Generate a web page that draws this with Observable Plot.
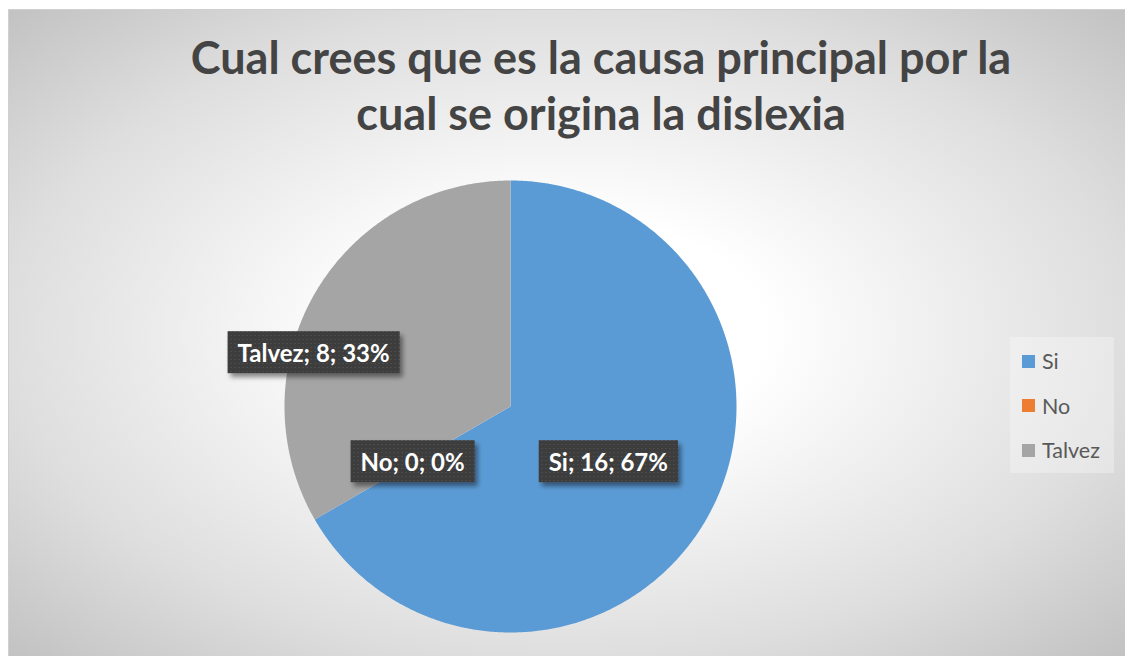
<!DOCTYPE html>
<html>
<head>
<meta charset="utf-8">
<script src="https://cdn.jsdelivr.net/npm/d3@7"></script>
<script src="https://cdn.jsdelivr.net/npm/@observablehq/plot@0.6"></script>
<style>
  html, body { margin: 0; padding: 0; background: #ffffff; }
  #wrap { position: relative; width: 1125px; height: 656px; overflow: hidden; font-family: Lato, "Open Sans", sans-serif; }
  #bg { position: absolute; left: 8px; top: 9px; width: 1117px; height: 647px; box-sizing: border-box;
        border-top: 1px solid #d0d0d0; border-left: 1px solid #d0d0d0;
        background: radial-gradient(ellipse farthest-corner at 50% 50%, #ffffff 0%, #ffffff 25%, #dedede 71%, #c2c2c2 100%); }
  #title { position: absolute; left: 101px; width: 1000px; top: 29px; text-align: center; font-weight: bold;
           font-size: 45px; line-height: 56px; color: #444444; white-space: nowrap; }
  #legend { position: absolute; left: 1010px; top: 337px; width: 104px; height: 136px; box-sizing: border-box;
            padding-top: 2px; background: rgba(255,255,255,0.3); }
  .lg-row { display: flex; align-items: center; height: 44.5px; padding-left: 12px; color: #595959; font-size: 21.5px; }
  .lg-sw { width: 13px; height: 13px; margin-right: 7px; flex: none; }
  #wrap svg { position: absolute; left: 0; top: 0; }
</style>
</head>
<body>
<div id="wrap">
  <div id="bg"></div>
  <div id="title"></div>
  <div id="legend"></div>
</div>
<script>
// ---- data ----
const categories = ["Si", "No", "Talvez"];
const counts = [16, 0, 8];
const colors = ["#5b9bd5", "#ed7d31", "#a5a5a5"];
const titleLines = ["Cual crees que es la causa principal por la", "cual se origina la dislexia"];

// ---- layout ----
const W = 1125, H = 656, CX = 510, CY = 406, R = 226;

const rows = categories.map((c, i) => ({cat: c, count: counts[i]}));
const total = d3.sum(counts);
const arcs = d3.pie().sort(null).value(d => d.count)(rows);

// slice outlines from the pie angles
const pts = [];
arcs.forEach(a => {
  const span = a.endAngle - a.startAngle;
  if (span <= 0) return;
  pts.push({cat: a.data.cat, x: 0, y: 0});
  const n = Math.max(2, Math.ceil(span / (Math.PI / 360)));
  for (let k = 0; k <= n; k++) {
    const t = a.startAngle + span * k / n;
    pts.push({cat: a.data.cat, x: Math.sin(t), y: Math.cos(t)});
  }
});

const labels = arcs.map(a => {
  const m = (a.startAngle + a.endAngle) / 2;
  return {
    cat: a.data.cat,
    text: `${a.data.cat}; ${a.data.count}; ${Math.round(100 * a.data.count / total)}%`,
    x: 0.5 * Math.sin(m),
    y: 0.5 * Math.cos(m)
  };
});

const textOpts = {x: "x", y: "y", text: "text", fill: "white", fontWeight: "bold", fontSize: 24};

const svg = Plot.plot({
  width: W, height: H, margin: 0,
  x: {domain: [-CX / R, (W - CX) / R], axis: null},
  y: {domain: [-(H - CY) / R, CY / R], axis: null},
  color: {domain: categories, range: colors},
  style: {background: "transparent", fontFamily: "Lato, 'Open Sans', sans-serif", overflow: "visible"},
  marks: [
    Plot.line(pts, {x: "x", y: "y", z: "cat", fill: "cat", stroke: "none"}),
    Plot.text(labels.filter(d => d.cat !== "Talvez"), textOpts),
    Plot.text(labels.filter(d => d.cat === "Talvez"), {...textOpts, dx: -99, dy: 4})
  ]
});

document.getElementById("wrap").append(svg);

// title
document.getElementById("title").innerHTML = titleLines.join("<br>");

// legend
const lg = d3.select("#legend");
categories.forEach((c, i) => {
  const r = lg.append("div").attr("class", "lg-row");
  r.append("div").attr("class", "lg-sw").style("background", colors[i]);
  r.append("span").text(c);
});

// label boxes (patterned, with shadow)
const NS = "http://www.w3.org/2000/svg";
const defs = document.createElementNS(NS, "defs");
defs.innerHTML =
  '<pattern id="lblDots" patternUnits="userSpaceOnUse" width="4" height="4">' +
  '<rect width="4" height="4" fill="#3d3d3d"></rect>' +
  '<rect x="1" y="1" width="1" height="1" fill="#585858"></rect></pattern>' +
  '<filter id="lblShadow" x="-20%" y="-40%" width="150%" height="200%">' +
  '<feGaussianBlur in="SourceAlpha" stdDeviation="2.5"></feGaussianBlur>' +
  '<feOffset dx="3" dy="4" result="ob"></feOffset>' +
  '<feComponentTransfer><feFuncA type="linear" slope="0.45"></feFuncA></feComponentTransfer>' +
  '<feMerge><feMergeNode></feMergeNode><feMergeNode in="SourceGraphic"></feMergeNode></feMerge>' +
  '</filter>';
svg.insertBefore(defs, svg.firstChild);

Array.from(svg.querySelectorAll("text")).forEach(t => {
  const b = t.getBBox();
  const rect = document.createElementNS(NS, "rect");
  const cy = b.y + b.height / 2;
  rect.setAttribute("x", b.x - 10);
  rect.setAttribute("y", cy - 21);
  rect.setAttribute("width", b.width + 20);
  rect.setAttribute("height", 42);
  rect.setAttribute("fill", "url(#lblDots)");
  rect.setAttribute("filter", "url(#lblShadow)");
  const tr = t.getAttribute("transform");
  if (tr) rect.setAttribute("transform", tr);
  t.parentNode.insertBefore(rect, t);
});
</script>
</body>
</html>
